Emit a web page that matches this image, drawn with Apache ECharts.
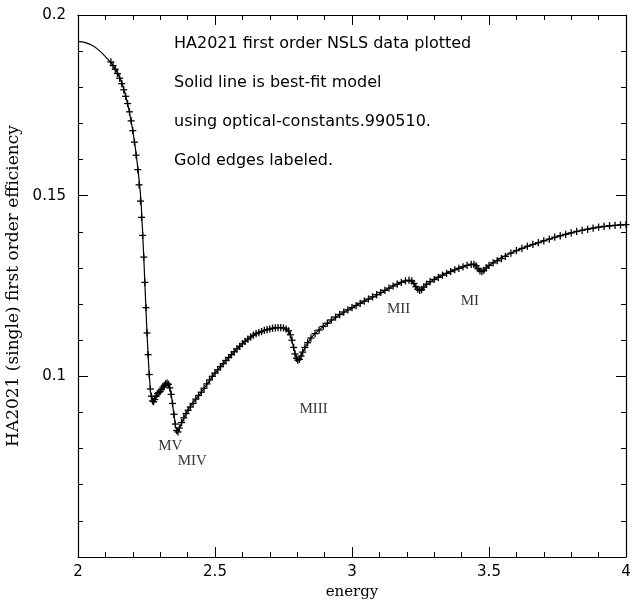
<!DOCTYPE html>
<html>
<head>
<meta charset="utf-8">
<script src="https://cdn.jsdelivr.net/npm/echarts@6/dist/echarts.min.js"></script>
<style>
html,body{margin:0;padding:0;background:#fff;}
#c{width:633px;height:602px;}
</style>
</head>
<body>
<div id="c"></div>
<script>
// ---- data ----
const dataEnergy = [2.120,2.128,2.136,2.144,2.152,2.160,2.167,2.174,2.181,2.188,2.194,2.200,2.206,2.212,2.218,2.223,2.228,2.232,2.236,2.240,2.244,2.248,2.252,2.256,2.260,2.264,2.268,2.272,2.276,2.280,2.285,2.290,2.295,2.300,2.305,2.310,2.315,2.320,2.325,2.330,2.335,2.340,2.345,2.350,2.355,2.360,2.365,2.370,2.378,2.386,2.394,2.402,2.410,2.420,2.430,2.440,2.450,2.460,2.470,2.480,2.490,2.500,2.510,2.520,2.530,2.540,2.550,2.560,2.570,2.580,2.590,2.600,2.610,2.620,2.630,2.640,2.650,2.660,2.670,2.680,2.690,2.700,2.710,2.720,2.730,2.740,2.750,2.760,2.768,2.775,2.781,2.787,2.792,2.797,2.802,2.808,2.814,2.820,2.828,2.838,2.850,2.865,2.880,2.895,2.910,2.925,2.940,2.955,2.970,2.985,3.000,3.015,3.030,3.045,3.060,3.075,3.090,3.105,3.120,3.135,3.150,3.165,3.180,3.195,3.208,3.218,3.226,3.233,3.240,3.247,3.254,3.262,3.272,3.285,3.300,3.315,3.330,3.345,3.360,3.375,3.390,3.405,3.420,3.435,3.445,3.453,3.460,3.467,3.474,3.481,3.490,3.500,3.515,3.530,3.545,3.560,3.580,3.600,3.620,3.640,3.660,3.680,3.700,3.720,3.740,3.760,3.780,3.800,3.820,3.840,3.860,3.880,3.900,3.920,3.940,3.960,3.980,4.000];
const dataEff = [0.1870,0.1860,0.1850,0.1838,0.1825,0.1810,0.1793,0.1775,0.1755,0.1732,0.1707,0.1680,0.1648,0.1612,0.1572,0.1530,0.1485,0.1440,0.1390,0.1330,0.1260,0.1190,0.1120,0.1060,0.1005,0.0965,0.0945,0.0932,0.0930,0.0936,0.0945,0.0952,0.0955,0.0958,0.0964,0.0970,0.0975,0.0979,0.0981,0.0978,0.0968,0.0950,0.0925,0.0895,0.0868,0.0850,0.0846,0.0857,0.0872,0.0885,0.0897,0.0906,0.0915,0.0925,0.0937,0.0947,0.0956,0.0967,0.0979,0.0990,0.1000,0.1009,0.1018,0.1027,0.1035,0.1044,0.1052,0.1060,0.1068,0.1076,0.1083,0.1090,0.1097,0.1103,0.1109,0.1114,0.1118,0.1121,0.1124,0.1127,0.1129,0.1131,0.1133,0.1134,0.1135,0.1135,0.1134,0.1131,0.1126,0.1115,0.1100,0.1080,0.1062,0.1050,0.1045,0.1047,0.1056,0.1067,0.1080,0.1093,0.1106,0.1118,0.1128,0.1138,0.1147,0.1156,0.1164,0.1171,0.1178,0.1184,0.1190,0.1196,0.1202,0.1208,0.1214,0.1220,0.1226,0.1232,0.1238,0.1244,0.1250,0.1255,0.1260,0.1264,0.1266,0.1264,0.1257,0.1248,0.1241,0.1238,0.1240,0.1247,0.1255,0.1262,0.1268,0.1274,0.1280,0.1285,0.1290,0.1295,0.1299,0.1303,0.1307,0.1310,0.1310,0.1306,0.1298,0.1292,0.1290,0.1293,0.1300,0.1307,0.1314,0.1320,0.1326,0.1332,0.1341,0.1348,0.1354,0.1360,0.1365,0.1370,0.1375,0.1380,0.1385,0.1389,0.1393,0.1397,0.1401,0.1404,0.1407,0.1410,0.1413,0.1415,0.1417,0.1418,0.1419,0.1420];
const errHalf = 0.001;

const modelEnergy = [2.00,2.02,2.04,2.06,2.08,2.10,2.12,2.14,2.16,2.18,2.20,2.21,2.22,2.23,2.24,2.25,2.26,2.27,2.28,2.29,2.30,2.31,2.32,2.33,2.34,2.35,2.36,2.37,2.38,2.40,2.45,2.50,2.55,2.60,2.65,2.70,2.74,2.76,2.775,2.79,2.80,2.81,2.82,2.85,2.90,2.95,3.00,3.05,3.10,3.15,3.20,3.22,3.235,3.25,3.265,3.30,3.35,3.40,3.44,3.46,3.475,3.49,3.50,3.55,3.60,3.70,3.80,3.90,4.00];
const modelEff = [0.1927,0.1925,0.1920,0.1912,0.1900,0.1885,0.1868,0.1846,0.1812,0.1758,0.1680,0.1628,0.1565,0.1485,0.1330,0.1150,0.1005,0.0933,0.0937,0.0952,0.0958,0.0970,0.0979,0.0978,0.0950,0.0895,0.0850,0.0857,0.0874,0.0906,0.0956,0.1009,0.1052,0.1090,0.1118,0.1131,0.1135,0.1131,0.1115,0.1070,0.1047,0.1050,0.1067,0.1106,0.1141,0.1168,0.1190,0.1210,0.1228,0.1250,0.1265,0.1262,0.1246,0.1238,0.1249,0.1268,0.1287,0.1302,0.1310,0.1298,0.1290,0.1300,0.1307,0.1330,0.1348,0.1375,0.1397,0.1413,0.1420];

const edgeNames = ['MV','MIV','MIII','MII','MI'];
const edgeLabelEnergy = [2.337,2.417,2.86,3.17,3.43];
const edgeLabelEff = [0.0808,0.0765,0.0909,0.1187,0.1207];

const notes = ['HA2021 first order NSLS data plotted','Solid line is best-fit model','using optical-constants.990510.','Gold edges labeled.'];

const xTitle = 'energy';
const yTitle = 'HA2021 (single) first order efficiency';

// ---- chart ----
const chart = echarts.init(document.getElementById('c'), null, {renderer:'canvas'});
const axisCommon = {
  axisLine:{show:true, onZero:false, lineStyle:{color:'#000', width:1.2}},
  axisTick:{show:true, inside:true, length:10, lineStyle:{color:'#000', width:1}},
  minorTick:{show:true, splitNumber:5, length:5, lineStyle:{color:'#000', width:1}},
  splitLine:{show:false}
};
const labelFont = {color:'#000', fontFamily:'DejaVu Sans', fontSize:15};
const errData = dataEnergy.map((e,i)=>[e, dataEff[i]]);

chart.setOption({
  animation:false,
  backgroundColor:'#fff',
  grid:{left:78, right:7, top:15, bottom:45, containLabel:false, outerBoundsMode:'none'},
  xAxis:[
    Object.assign({type:'value', min:2, max:4, interval:0.5, position:'bottom',
      name:xTitle, nameLocation:'middle', nameGap:27,
      nameTextStyle:{color:'#000', fontFamily:'DejaVu Serif', fontSize:15},
      axisLabel:Object.assign({margin:8, formatter:v=>String(v)}, labelFont)}, axisCommon),
    Object.assign({type:'value', min:2, max:4, interval:0.5, position:'top',
      axisLabel:{show:false}}, axisCommon)
  ],
  yAxis:[
    Object.assign({type:'value', min:0.05, max:0.2, interval:0.05, position:'left',
      name:yTitle, nameLocation:'middle', nameGap:49,
      nameTextStyle:{color:'#000', fontFamily:'DejaVu Serif', fontSize:17},
      axisLabel:Object.assign({margin:12, showMinLabel:false, formatter:v=>String(+v.toFixed(2))}, labelFont)}, axisCommon),
    Object.assign({type:'value', min:0.05, max:0.2, interval:0.05, position:'right',
      axisLabel:{show:false}}, axisCommon)
  ],
  series:[
    {
      type:'line', data:modelEnergy.map((e,i)=>[e, modelEff[i]]),
      showSymbol:false, smooth:0.2, lineStyle:{color:'#000', width:1.2}, z:2
    },
    {
      type:'custom', data:errData, z:3,
      renderItem:function(params, api){
        const x = api.value(0), y = api.value(1);
        const pc = api.coord([x, y]);
        const pt = api.coord([x, y + errHalf]);
        const pb = api.coord([x, y - errHalf]);
        const st = {stroke:'#000', lineWidth:1.3};
        return {type:'group', children:[
          {type:'line', shape:{x1:pt[0], y1:pt[1], x2:pb[0], y2:pb[1]}, style:st},
          {type:'line', shape:{x1:pc[0]-3.5, y1:pc[1], x2:pc[0]+3.5, y2:pc[1]}, style:st}
        ]};
      }
    },
    {
      type:'scatter', symbolSize:0, z:4,
      data:edgeNames.map((n,i)=>({value:[edgeLabelEnergy[i], edgeLabelEff[i]], name:n})),
      label:{show:true, position:'inside', formatter:p=>p.name, color:'#000',
        fontFamily:'Liberation Serif', fontSize:15}
    }
  ],
  graphic: notes.map((t,i)=>({
    type:'text', left:174, top:36 + i*39,
    style:{text:t, fill:'#000', font:'16px "DejaVu Sans"'}
  }))
});
</script>
</body>
</html>
